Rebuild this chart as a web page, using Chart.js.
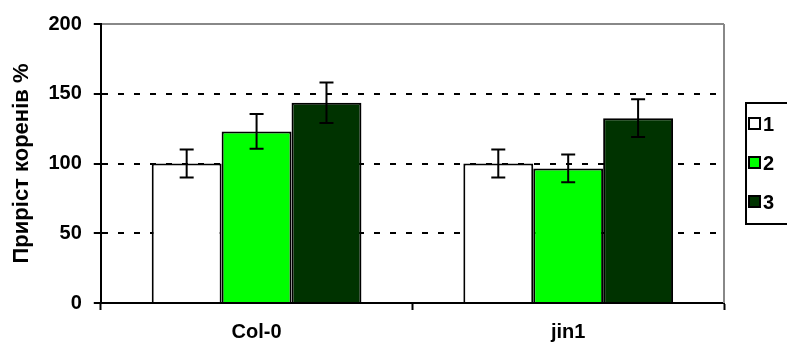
<!DOCTYPE html>
<html>
<head>
<meta charset="utf-8">
<script src="https://cdn.jsdelivr.net/npm/chart.js@4.4.0/dist/chart.umd.min.js"></script>
<style>
  body { margin: 0; background: #fff; }
  #wrap { width: 787px; height: 354px; }
</style>
</head>
<body>
<div id="wrap"><canvas id="myChart" width="787" height="354"></canvas></div>
<script>
const categories = ['Col-0', 'jin1'];
const seriesNames = ['1', '2', '3'];
const series1 = [100, 100];
const series2 = [123, 96.5];
const series3 = [143.5, 132.5];
const errors1 = [10, 10];
const errors2 = [12.5, 10];
const errors3 = [14.5, 13.5];
const yTicks = [0, 50, 100, 150, 200];

const colors = ['#ffffff', '#00ff00', '#003300'];
const FONT = "'Liberation Sans', Arial, sans-serif";

// error bars drawn through the y scale
const errorBars = {
    id: 'errorBars',
    afterDatasetsDraw(chart) {
        const ctx = chart.ctx;
        const y = chart.scales.y;
        ctx.save();
        ctx.strokeStyle = '#000';
        ctx.lineWidth = 2;
        chart.data.datasets.forEach((ds, i) => {
            const meta = chart.getDatasetMeta(i);
            meta.data.forEach((bar, j) => {
                const v = ds.data[j];
                const e = ds.errors[j];
                const top = y.getPixelForValue(v + e);
                const bot = y.getPixelForValue(v - e);
                ctx.beginPath();
                ctx.moveTo(bar.x, top);
                ctx.lineTo(bar.x, bot);
                ctx.moveTo(bar.x - 7, top);
                ctx.lineTo(bar.x + 7, top);
                ctx.moveTo(bar.x - 7, bot);
                ctx.lineTo(bar.x + 7, bot);
                ctx.stroke();
            });
        });
        ctx.restore();
    }
};

// gray right frame + boxed legend at the right
const frameAndLegend = {
    id: 'frameAndLegend',
    afterDraw(chart) {
        const ctx = chart.ctx;
        const a = chart.chartArea;
        ctx.save();
        ctx.strokeStyle = '#888';
        ctx.lineWidth = 2;
        ctx.beginPath();
        ctx.moveTo(a.right, a.top);
        ctx.lineTo(a.right, a.bottom);
        ctx.stroke();

        // legend box
        const lx = 746, ly = 103, lh = 121;
        ctx.strokeStyle = '#000';
        ctx.lineWidth = 2;
        ctx.strokeRect(lx, ly, 60, lh);
        ctx.font = 'bold 20px ' + FONT;
        ctx.textBaseline = 'middle';
        chart.data.datasets.forEach((ds, i) => {
            const cy = ly + 21 + i * 39;
            ctx.fillStyle = ds.backgroundColor;
            ctx.fillRect(749, cy - 6, 11, 11);
            ctx.strokeRect(749, cy - 6, 11, 11);
            ctx.fillStyle = '#000';
            ctx.fillText(ds.label, 763, cy + 1);
        });
        ctx.restore();
    }
};

const allValues = [series1, series2, series3];
const allErrors = [errors1, errors2, errors3];

let myChart = document.getElementById('myChart').getContext('2d');
let barChart = new Chart(myChart, {
    type: 'bar',
    data: {
        labels: categories,
        datasets: seriesNames.map((name, i) => ({
            label: name,
            data: allValues[i],
            errors: allErrors[i],
            backgroundColor: colors[i],
            borderColor: '#000',
            borderWidth: 2,
            borderSkipped: 'bottom',
            barPercentage: 1,
            categoryPercentage: 0.673
        }))
    },
    options: {
        responsive: false,
        animation: false,
        layout: { padding: { top: 6, right: 63, left: 9, bottom: 0 } },
        plugins: {
            legend: { display: false },
            tooltip: { enabled: false }
        },
        scales: {
            x: {
                grid: {
                    drawOnChartArea: false,
                    tickLength: 7,
                    tickColor: '#000',
                    tickWidth: 2
                },
                border: { color: '#000', width: 2 },
                ticks: {
                    color: '#000',
                    font: { family: FONT, size: 20, weight: 'bold' },
                    padding: 10
                }
            },
            y: {
                min: 0,
                max: 200,
                afterBuildTicks: axis => { axis.ticks = yTicks.map(v => ({ value: v })); },
                grid: {
                    color: c => c.tick && c.tick.value === 200 ? '#888' : (c.tick && c.tick.value === 0 ? 'rgba(0,0,0,0)' : '#000'),
                    lineWidth: 2,
                    tickLength: 7,
                    tickColor: '#000',
                    tickWidth: 2
                },
                border: {
                    color: '#000',
                    width: 2,
                    dash: c => c.tick && c.tick.value === 200 ? [] : [6, 10]
                },
                ticks: {
                    color: '#000',
                    font: { family: FONT, size: 20, weight: 'bold' },
                    padding: 12
                },
                title: {
                    display: true,
                    text: 'Приріст коренів %',
                    color: '#000',
                    font: { family: FONT, size: 22, weight: 'bold' },
                    padding: { top: 0, bottom: 1 }
                }
            }
        }
    },
    plugins: [errorBars, frameAndLegend]
});
</script>
</body>
</html>
